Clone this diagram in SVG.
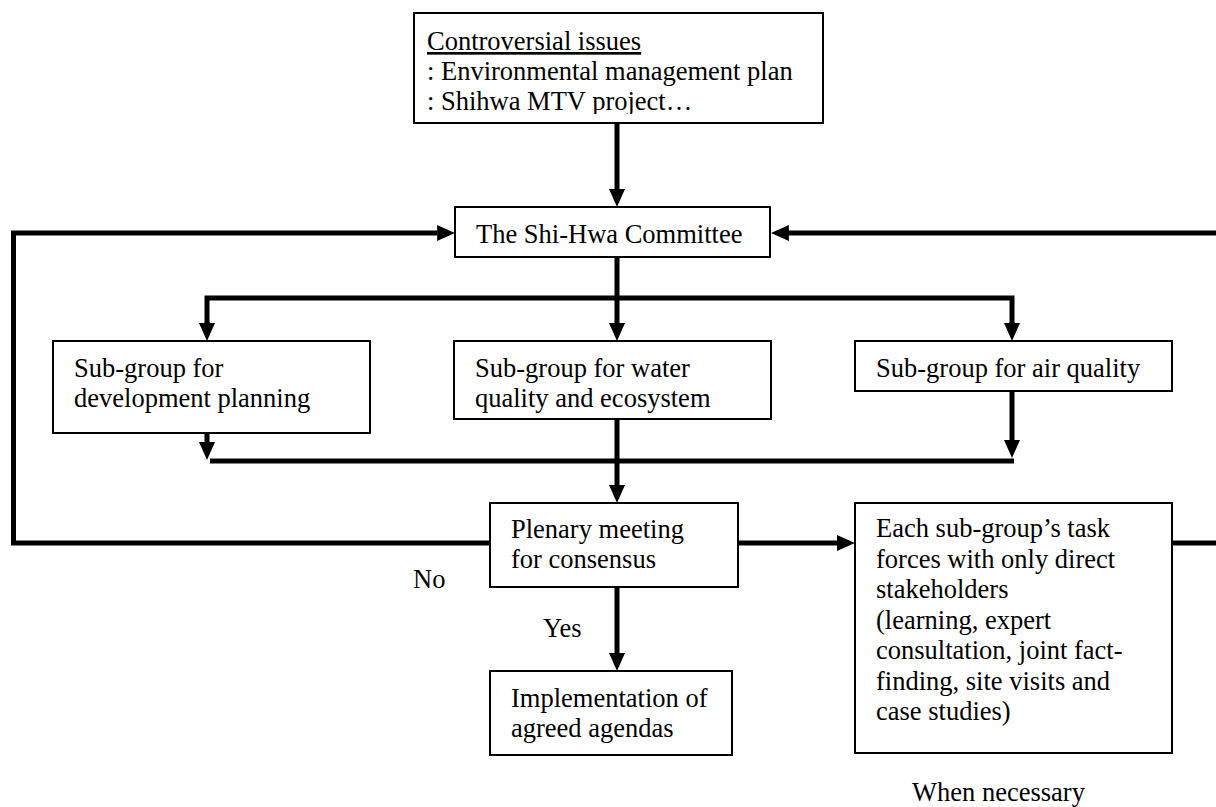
<svg xmlns="http://www.w3.org/2000/svg" width="1216" height="807" viewBox="0 0 1216 807">
<style>
.box{fill:#fff;stroke:#000;stroke-width:2}
.t{font-family:"Liberation Serif","Times New Roman",serif;font-size:26.5px;fill:#000}
.c{fill:none;stroke:#000;stroke-width:5;stroke-linejoin:miter}
.a{marker-end:url(#ah)}
</style>
<defs>
<marker id="ah" viewBox="0 0 18 16" refX="0" refY="8" markerWidth="18" markerHeight="16" markerUnits="userSpaceOnUse" orient="auto">
<path d="M0,0 L18,8 L0,16 z" fill="#000"/>
</marker>
<clipPath id="clipTop"><rect x="414" y="13" width="409" height="101"/></clipPath>
</defs>
<rect width="1216" height="807" fill="#fff"/>
<g id="connectors">
<path class="c a" d="M617,123 V189"/>
<path class="c" d="M490,543 H13.5 V233 H437"/>
<path class="c a" d="M437,233 H437.1"/>
<path class="c" d="M1216,233 H788"/>
<path class="c a" d="M789,233 H788.9"/>
<path class="c a" d="M617,257 V323"/>
<path class="c" d="M207,323 V298 H1012 V323"/>
<path class="c a" d="M207,322 V323"/>
<path class="c a" d="M1012,322 V323"/>
<path class="c a" d="M207,433 V442"/>
<path class="c a" d="M1012,391 V440"/>
<path class="c" d="M210,461 H1014"/>
<path class="c a" d="M617,419 V485"/>
<path class="c a" d="M617,587 V653"/>
<path class="c a" d="M738,543 H837"/>
<path class="c" d="M1172,543 H1216"/>
</g>
<g id="issues">
<rect class="box" x="414" y="13" width="409" height="110"/>
<text class="t" x="427" y="50" text-decoration="underline">Controversial issues</text>
<text class="t" x="427" y="80">: Environmental management plan</text>
<text class="t" x="427" y="110" clip-path="url(#clipTop)">: Shihwa MTV project…</text>
</g>
<g id="committee">
<rect class="box" x="455" y="207" width="315" height="50"/>
<text class="t" x="476" y="243">The Shi-Hwa Committee</text>
</g>
<g id="sg-dev">
<rect class="box" x="53" y="341" width="317" height="92"/>
<text class="t" x="74" y="377">Sub-group for</text>
<text class="t" x="74" y="407">development planning</text>
</g>
<g id="sg-water">
<rect class="box" x="454" y="341" width="317" height="78"/>
<text class="t" x="475" y="377">Sub-group for water</text>
<text class="t" x="475" y="407">quality and ecosystem</text>
</g>
<g id="sg-air">
<rect class="box" x="855" y="341" width="317" height="50"/>
<text class="t" x="876" y="377">Sub-group for air quality</text>
</g>
<g id="plenary">
<rect class="box" x="490" y="503" width="248" height="84"/>
<text class="t" x="511" y="538">Plenary meeting</text>
<text class="t" x="511" y="568">for consensus</text>
</g>
<g id="implementation">
<rect class="box" x="490" y="671" width="242" height="84"/>
<text class="t" x="511" y="707">Implementation of</text>
<text class="t" x="511" y="737">agreed agendas</text>
</g>
<g id="taskforces">
<rect class="box" x="855" y="503" width="317" height="250"/>
<text class="t" x="876" y="537">Each sub-group’s task</text>
<text class="t" x="876" y="567.5">forces with only direct</text>
<text class="t" x="876" y="598">stakeholders</text>
<text class="t" x="876" y="628.5">(learning, expert</text>
<text class="t" x="876" y="659">consultation, joint fact-</text>
<text class="t" x="876" y="689.5">finding, site visits and</text>
<text class="t" x="876" y="720">case studies)</text>
</g>
<g id="labels">
<text class="t" x="413" y="588">No</text>
<text class="t" x="543" y="637">Yes</text>
<text class="t" x="912" y="801">When necessary</text>
</g>
</svg>
